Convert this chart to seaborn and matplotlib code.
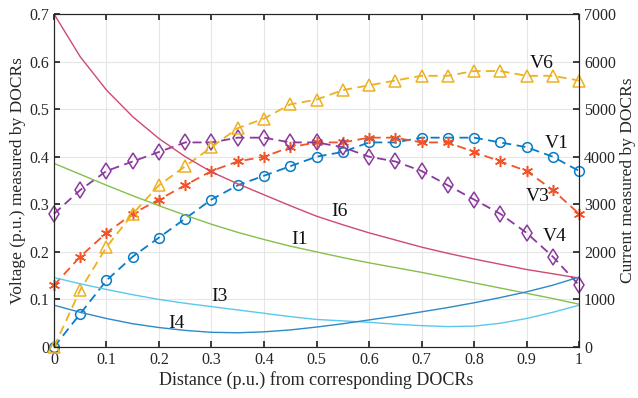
import numpy as np
import pandas as pd
import seaborn as sns
import matplotlib.pyplot as plt

# distance (p.u.), sampled every 0.05
dist = [round(0.05 * i, 2) for i in range(21)]

# voltages (p.u.) - left axis
v1 = [0.00, 0.07, 0.14, 0.19, 0.23, 0.27, 0.31, 0.34, 0.36, 0.38, 0.40,
      0.41, 0.43, 0.43, 0.44, 0.44, 0.44, 0.43, 0.42, 0.40, 0.37]
v3 = [0.13, 0.19, 0.24, 0.28, 0.31, 0.34, 0.37, 0.39, 0.40, 0.42, 0.43,
      0.43, 0.44, 0.44, 0.43, 0.43, 0.41, 0.39, 0.37, 0.33, 0.28]
v4 = [0.28, 0.33, 0.37, 0.39, 0.41, 0.43, 0.43, 0.44, 0.44, 0.43, 0.43,
      0.42, 0.40, 0.39, 0.37, 0.34, 0.31, 0.28, 0.24, 0.19, 0.13]
v6 = [0.00, 0.12, 0.21, 0.28, 0.34, 0.38, 0.42, 0.46, 0.48, 0.51, 0.52,
      0.54, 0.55, 0.56, 0.57, 0.57, 0.58, 0.58, 0.57, 0.57, 0.56]

# currents - right axis
i1 = [3860, 3630, 3400, 3180, 2970, 2770, 2580, 2410, 2260, 2120, 2000,
      1880, 1770, 1670, 1570, 1460, 1350, 1240, 1130, 1020, 900]
i3 = [1460, 1330, 1210, 1100, 1000, 920, 850, 780, 710, 640, 580,
      550, 520, 480, 450, 430, 440, 500, 600, 730, 880]
i4 = [880, 730, 600, 490, 410, 350, 310, 300, 320, 360, 420,
      490, 570, 650, 740, 830, 930, 1040, 1160, 1300, 1470]
i6 = [7000, 6100, 5400, 4840, 4380, 4000, 3680, 3430, 3200, 2970, 2750,
      2570, 2400, 2250, 2100, 1970, 1850, 1740, 1630, 1540, 1450]

volt = pd.DataFrame({"d": dist, "V1": v1, "V3": v3, "V4": v4, "V6": v6})
curr = pd.DataFrame({"d": dist, "I1": i1, "I3": i3, "I4": i4, "I6": i6})

sns.set_theme(style="ticks")
plt.rcParams["font.family"] = ["Liberation Serif", "DejaVu Serif"]
plt.rcParams["xtick.direction"] = "in"
plt.rcParams["ytick.direction"] = "in"

fig = plt.figure(figsize=(6.38, 3.98), dpi=100)
ax = fig.add_axes([0.0846, 0.128, 0.823, 0.837])
ax2 = ax.twinx()

cur_style = {"I6": "#CF4A6E", "I1": "#86BF4C", "I3": "#5BC8EE", "I4": "#2C8AC6"}
for name, col in cur_style.items():
    sns.lineplot(data=curr, x="d", y=name, ax=ax2, color=col, lw=1.0)

v_style = {
    "V1": ("#0B7CC4", "o", 7),
    "V3": ("#F2542A", (6, 2, 0), 8),
    "V4": ("#8A3A9C", "d", 8),
    "V6": ("#EDB120", "^", 8),
}
for name, (col, mk, ms) in v_style.items():
    sns.lineplot(data=volt, x="d", y=name, ax=ax, color=col, lw=1.3,
                 linestyle=(0, (5, 3)), marker=mk, markersize=ms,
                 markerfacecolor="none", markeredgecolor=col,
                 markeredgewidth=1.1, clip_on=False, zorder=5)

ax.set_xlim(0, 1)
ax.set_ylim(0, 0.7)
ax2.set_ylim(0, 7000)
ax.set_xticks(np.arange(0, 1.01, 0.1))
ax.set_xticklabels(["0"] + ["%.1f" % t for t in np.arange(0.1, 0.95, 0.1)] + ["1"])
ax.set_yticks(np.arange(0, 0.71, 0.1))
ax.set_yticklabels(["0"] + ["%.1f" % t for t in np.arange(0.1, 0.75, 0.1)])
ax2.set_yticks(range(0, 7001, 1000))

ax.grid(True, color="#E6E6E6", lw=0.8)
ax.set_axisbelow(True)
ax.tick_params(top=True, labelsize=11.5, colors="#262626", length=4)
ax2.tick_params(labelsize=11.5, colors="#262626", length=4)
for a in (ax, ax2):
    for s in a.spines.values():
        s.set_color("#262626")
        s.set_linewidth(0.8)

ax.set_xlabel("Distance (p.u.) from corresponding DOCRs", fontsize=13, color="#262626", labelpad=2)
ax.set_ylabel("Voltage (p.u.) measured by DOCRs", fontsize=12.5, color="#262626", labelpad=2)
ax2.set_ylabel("Current measured by DOCRs", fontsize=12.5, color="#262626", labelpad=3)

labels = [("V6", 0.928, 0.596), ("V1", 0.957, 0.428), ("V3", 0.922, 0.316),
          ("V4", 0.953, 0.232), ("I6", 0.544, 0.284), ("I1", 0.468, 0.225),
          ("I3", 0.316, 0.106), ("I4", 0.233, 0.050)]
for txt, x, y in labels:
    ax.text(x, y, txt, fontsize=14, ha="center", va="center", color="#111111")

fig.savefig("out.png", dpi=100)
